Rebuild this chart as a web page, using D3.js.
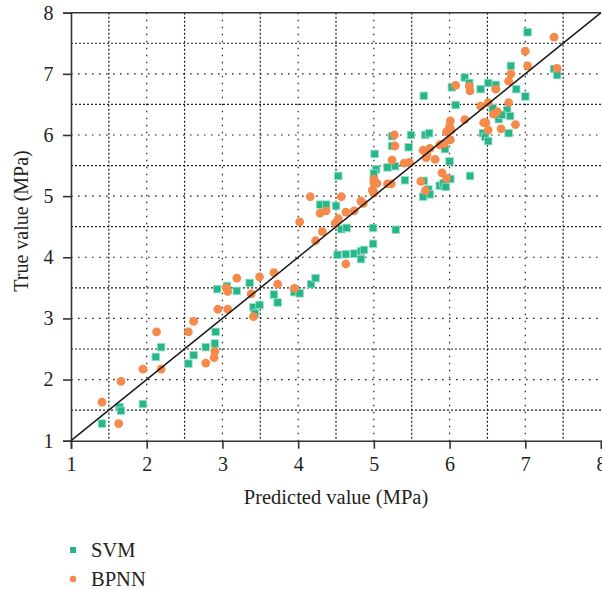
<!DOCTYPE html>
<html>
<head>
<meta charset="utf-8">
<script src="https://cdn.jsdelivr.net/npm/d3@7"></script>
<style>
  html, body { margin: 0; padding: 0; background: #fff; }
  svg { display: block; }
  text { font-family: "Liberation Serif", "DejaVu Serif", serif; fill: #231f20; }
</style>
</head>
<body>
<svg id="chart" width="602" height="590"></svg>
<script>
// Axis ticks
const axisTicks = [1, 2, 3, 4, 5, 6, 7, 8];
const halfTicks = [1.5, 2.5, 3.5, 4.5, 5.5, 6.5, 7.5];

// SVM: predicted vs true strength (MPa)
const svmPredicted = [
  1.41, 1.64, 1.66, 1.95, 2.12, 2.19, 2.55, 2.62, 2.78, 2.90, 2.91, 2.93, 3.06, 3.19, 3.36, 3.41, 3.43, 3.49,
  3.68, 3.73, 3.95, 4.02, 4.17, 4.23, 4.52, 4.63, 4.74, 4.83, 4.87, 4.83, 4.99, 4.99, 4.57, 4.64, 4.29, 4.37, 4.50, 4.53,
  5.01, 5.03, 5.00, 5.18, 5.28, 5.41, 5.29, 5.24, 5.24, 5.49, 5.46,
  5.66, 5.68, 5.73, 6.03, 6.08, 5.94, 6.00, 5.66, 5.72, 5.74, 5.65, 5.87, 5.92, 5.95, 6.01, 6.27,
  6.20, 6.26, 6.41, 6.51, 6.61, 6.88, 7.00, 7.03, 6.81, 7.38, 7.42, 6.57, 6.65, 6.76, 6.80, 6.69, 6.44, 6.47, 6.51, 6.78
];
const svmTrue = [
  1.28, 1.55, 1.49, 1.60, 2.37, 2.53, 2.26, 2.40, 2.53, 2.59, 2.78, 3.48, 3.53, 3.45, 3.58, 3.18, 3.08, 3.22,
  3.39, 3.26, 3.43, 3.41, 3.56, 3.66, 4.04, 4.05, 4.06, 4.10, 4.12, 3.97, 4.22, 4.48, 4.46, 4.48, 4.86, 4.86, 4.84, 5.33,
  5.69, 5.44, 5.37, 5.47, 5.49, 5.26, 4.45, 5.98, 5.82, 6.00, 5.80,
  6.64, 6.00, 6.03, 6.78, 6.49, 5.77, 5.57, 5.25, 5.11, 5.03, 4.99, 5.17, 5.21, 5.15, 5.28, 5.33,
  6.94, 6.85, 6.75, 6.85, 6.82, 6.75, 6.63, 7.68, 7.13, 7.08, 6.98, 6.44, 6.26, 6.41, 6.31, 6.33, 6.03, 5.97, 5.90, 6.03
];

// BPNN: predicted vs true strength (MPa)
const bpnnPredicted = [
  1.41, 1.63, 1.66, 1.95, 2.13, 2.19, 2.55, 2.62, 2.78, 2.90, 2.89, 2.94, 3.07, 3.41, 3.05, 3.07, 3.19, 3.38, 3.49,
  3.68, 3.73, 3.95, 4.23, 4.32, 4.02, 4.16, 4.29, 4.37, 4.49, 4.53, 4.57, 4.63, 4.74, 4.83, 4.86, 4.63, 4.98, 5.00,
  5.00, 5.00, 5.04, 5.18, 5.23, 5.24, 5.40, 5.47, 5.27, 5.28, 4.99,
  5.65, 5.70, 5.74, 5.69, 5.81, 5.87, 5.93, 6.01, 5.90, 5.96, 5.62, 5.68, 5.96, 6.00, 6.01, 6.02, 6.08,
  6.20, 6.26, 6.27, 6.41, 6.51, 6.45, 6.48, 6.51, 6.58, 6.63, 6.61, 6.68, 6.78, 6.78, 6.81, 6.87, 7.00, 7.03, 7.38, 7.42
];
const bpnnTrue = [
  1.63, 1.28, 1.97, 2.17, 2.78, 2.17, 2.78, 2.95, 2.27, 2.46, 2.36, 3.15, 3.15, 3.03, 3.50, 3.44, 3.66, 3.40, 3.68,
  3.75, 3.56, 3.49, 4.27, 4.42, 4.58, 4.99, 4.72, 4.76, 4.56, 4.63, 4.99, 4.74, 4.76, 4.92, 4.88, 3.89, 5.10, 5.05,
  5.28, 5.22, 5.21, 5.20, 5.20, 5.59, 5.54, 5.55, 6.00, 5.82, 5.08,
  5.75, 5.67, 5.78, 5.63, 5.60, 5.84, 5.86, 5.92, 5.38, 5.29, 5.24, 5.09, 6.05, 6.14, 6.23, 6.08, 6.81,
  6.25, 6.80, 6.72, 6.47, 6.53, 6.20, 6.20, 6.08, 6.34, 6.38, 6.75, 6.10, 6.53, 6.88, 7.00, 6.17, 7.37, 7.13, 7.60, 7.09
];

const seriesNames = ["SVM", "BPNN"];
const seriesColors = { SVM: "#27b68b", BPNN: "#f58a4a" };

const svm = svmPredicted.map((p, i) => ({ p, t: svmTrue[i] }));
const bpnn = bpnnPredicted.map((p, i) => ({ p, t: bpnnTrue[i] }));

const svg = d3.select("#chart");
const plotLeft = 71, plotRight = 601, plotTop = 12.7, plotBottom = 440.7;

const x = d3.scaleLinear().domain([1, 8]).range([plotLeft, plotRight]);
const y = d3.scaleLinear().domain([1, 8]).range([plotBottom, plotTop]);

// Grid: dotted at whole units, denser dashes at half units
const grid = svg.append("g").attr("stroke", "#1e1e1e").attr("stroke-width", 1.2).attr("fill", "none");
grid.selectAll(".vh").data(halfTicks).join("line")
  .attr("x1", d => x(d)).attr("x2", d => x(d)).attr("y1", plotTop).attr("y2", plotBottom)
  .attr("stroke-dasharray", "2,2");
grid.selectAll(".hh").data(halfTicks).join("line")
  .attr("y1", d => y(d)).attr("y2", d => y(d)).attr("x1", plotLeft).attr("x2", plotRight)
  .attr("stroke-dasharray", "2,2");
grid.selectAll(".vi").data(axisTicks.slice(1, -1)).join("line")
  .attr("x1", d => x(d)).attr("x2", d => x(d)).attr("y1", plotTop).attr("y2", plotBottom)
  .attr("stroke-dasharray", "1.6,5.4");
grid.selectAll(".hi").data(axisTicks.slice(1, -1)).join("line")
  .attr("y1", d => y(d)).attr("y2", d => y(d)).attr("x1", plotLeft).attr("x2", plotRight)
  .attr("stroke-dasharray", "1.6,5.4");

// Axes
const xAxis = d3.axisBottom(x).tickValues(axisTicks).tickSize(8).tickPadding(8.5).tickFormat(d3.format("d"));
const yAxis = d3.axisLeft(y).tickValues(axisTicks).tickSize(8).tickPadding(9.5).tickFormat(d3.format("d"));

const gx = svg.append("g").attr("transform", `translate(0,${plotBottom})`).call(xAxis);
const gy = svg.append("g").attr("transform", `translate(${plotLeft},0)`).call(yAxis);
[gx, gy].forEach(g => {
  g.select(".domain").attr("stroke", "#333").attr("stroke-width", 1.6);
  g.selectAll(".tick line").attr("stroke", "#333").attr("stroke-width", 1.6);
  g.selectAll(".tick text").attr("font-size", 20)
    .attr("font-family", "'Liberation Serif', serif").attr("fill", "#231f20");
});

// Top frame line
svg.append("line").attr("x1", plotLeft).attr("x2", plotRight).attr("y1", plotTop).attr("y2", plotTop)
  .attr("stroke", "#333").attr("stroke-width", 1.6);

// Markers
svg.append("g").selectAll("rect").data(svm).join("rect")
  .attr("x", d => x(d.p) - 3.8).attr("y", d => y(d.t) - 3.8)
  .attr("width", 7.6).attr("height", 7.6)
  .attr("fill", seriesColors.SVM).attr("stroke", "#9be0c6").attr("stroke-width", 0.8);

svg.append("g").selectAll("circle").data(bpnn).join("circle")
  .attr("cx", d => x(d.p)).attr("cy", d => y(d.t)).attr("r", 4.4)
  .attr("fill", seriesColors.BPNN);

// y = x reference line
svg.append("line")
  .attr("x1", x(1)).attr("y1", y(1)).attr("x2", x(8)).attr("y2", y(8))
  .attr("stroke", "#1a1a1a").attr("stroke-width", 1.5);

// Axis titles
svg.append("text").attr("x", 336).attr("y", 504).attr("text-anchor", "middle")
  .attr("font-size", 20.5).text("Predicted value (MPa)");
svg.append("text").attr("transform", "translate(28,221) rotate(-90)").attr("text-anchor", "middle")
  .attr("font-size", 20).text("True value (MPa)");

// Legend
const legend = svg.append("g");
seriesNames.forEach((name, i) => {
  const cy = 550 + i * 29;
  if (name === "SVM") {
    legend.append("rect").attr("x", 70).attr("y", cy - 3).attr("width", 6).attr("height", 6)
      .attr("fill", seriesColors[name]);
  } else {
    legend.append("circle").attr("cx", 73).attr("cy", cy).attr("r", 3.2).attr("fill", seriesColors[name]);
  }
  legend.append("text").attr("x", 91).attr("y", cy + 6.5).attr("font-size", 20.5).text(name);
});
</script>
</body>
</html>
